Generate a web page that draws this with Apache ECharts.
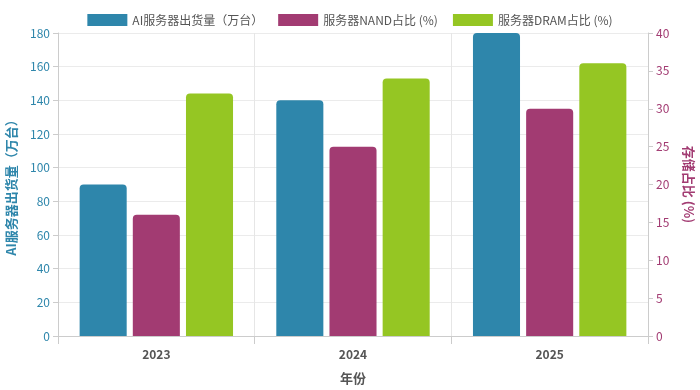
<!DOCTYPE html>
<html><head><meta charset="utf-8">
<script src="https://cdn.jsdelivr.net/npm/echarts@6/dist/echarts.min.js"></script>
<style>html,body{margin:0;padding:0;background:#fff;}#c{width:700px;height:390px;}</style>
</head><body><div id="c"></div>
<script>
const categories = ['2023', '2024', '2025'];
const shipments = [90, 140, 180];
const nandShare = [16, 25, 30];
const dramShare = [32, 34, 36];
const leftTicks = {min: 0, max: 180, interval: 20};
const rightTicks = {min: 0, max: 40, interval: 5};

const font = 'Noto Sans CJK SC, Noto Sans, sans-serif';
const chart = echarts.init(document.getElementById('c'));
chart.setOption({
  backgroundColor: '#fff',
  textStyle: {fontFamily: font},
  legend: {
    top: 9, left: 'center', itemWidth: 40, itemHeight: 12, itemGap: 15, icon: 'rect',
    textStyle: {color: '#555', fontSize: 12, fontFamily: font}
  },
  grid: {left: 58, right: 52, top: 33, bottom: 54, containLabel: false, outerBoundsMode: 'none'},
  xAxis: {
    type: 'category', data: categories,
    name: '年份', nameLocation: 'middle', nameGap: 36,
    nameTextStyle: {color: '#555', fontSize: 13, fontWeight: 'bold'},
    axisLine: {lineStyle: {color: '#ccc'}},
    axisTick: {show: true, length: 8, lineStyle: {color: '#ccc'}},
    axisLabel: {color: '#555', fontSize: 12, fontWeight: 'bold', margin: 12},
    splitLine: {show: true, lineStyle: {color: '#e6e6e6'}}
  },
  yAxis: [{
    type: 'value', min: leftTicks.min, max: leftTicks.max, interval: leftTicks.interval,
    name: 'AI服务器出货量（万台）', nameLocation: 'middle', nameGap: 40, nameRotate: 90,
    nameTextStyle: {color: '#2E86AB', fontSize: 13, fontWeight: 'bold'},
    axisLine: {show: true, lineStyle: {color: '#ccc'}},
    axisTick: {show: true, length: 5, lineStyle: {color: '#ccc'}},
    axisLabel: {color: '#2E86AB', fontSize: 12},
    splitLine: {lineStyle: {color: '#ebebeb'}}
  }, {
    type: 'value', min: rightTicks.min, max: rightTicks.max, interval: rightTicks.interval,
    name: '存储占比 (%)', nameLocation: 'middle', nameGap: 34, nameRotate: -90,
    nameTextStyle: {color: '#A23B72', fontSize: 13, fontWeight: 'bold'},
    axisLine: {show: true, lineStyle: {color: '#ccc'}},
    axisTick: {show: true, length: 5, lineStyle: {color: '#ccc'}},
    axisLabel: {color: '#A23B72', fontSize: 12},
    splitLine: {show: false}
  }],
  series: [{
    name: 'AI服务器出货量（万台）', type: 'bar', yAxisIndex: 0, data: shipments,
    itemStyle: {color: '#2E86AB', borderRadius: [4, 4, 0, 0]},
    barGap: '13%', barCategoryGap: '22%'
  }, {
    name: '服务器NAND占比 (%)', type: 'bar', yAxisIndex: 1, data: nandShare,
    itemStyle: {color: '#A23B72', borderRadius: [4, 4, 0, 0]}
  }, {
    name: '服务器DRAM占比 (%)', type: 'bar', yAxisIndex: 1, data: dramShare,
    itemStyle: {color: '#95C623', borderRadius: [4, 4, 0, 0]}
  }]
});
</script></body></html>
